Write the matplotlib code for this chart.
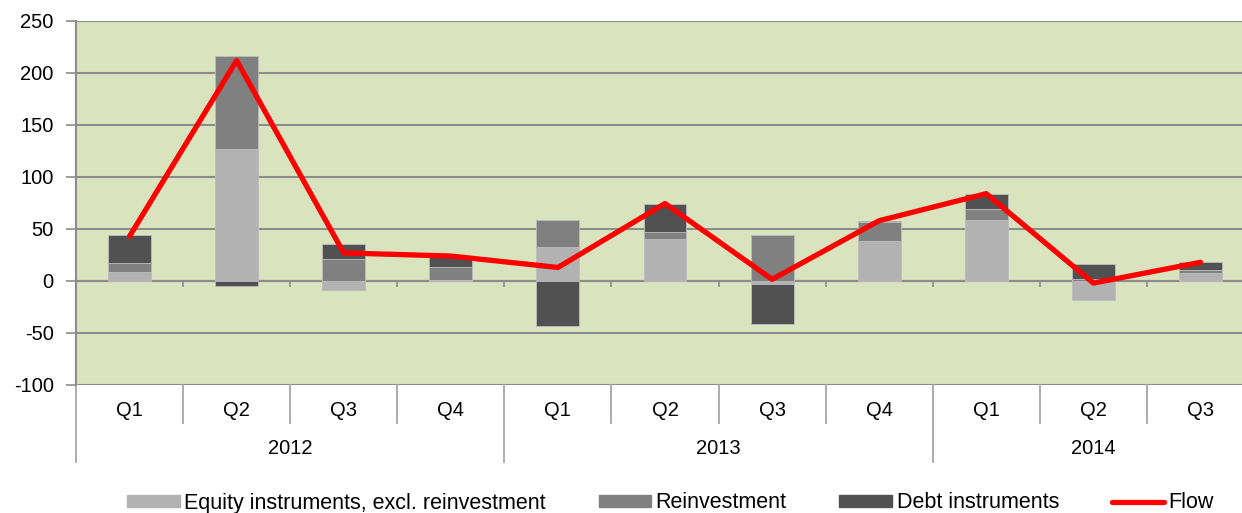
import matplotlib
matplotlib.use("Agg")
import matplotlib.pyplot as plt
import numpy as np
from matplotlib.lines import Line2D
from matplotlib.patches import Patch

plt.rcParams['font.family'] = ['Liberation Sans', 'DejaVu Sans']
plt.rcParams['axes.unicode_minus'] = False

years = ["2012", "2013", "2014"]
quarters_per_year = [4, 4, 3]
quarters = ["Q1", "Q2", "Q3", "Q4", "Q1", "Q2", "Q3", "Q4", "Q1", "Q2", "Q3"]
equity = [9, 126.6, -8.6, 0.5, 32.7, 40.7, -2.5, 38, 59, -18, 7.4]
reinvest = [8, 90, 21, 13, 26, 6.3, 44, 18.7, 10, 2, 3.2]
debt = [27, -5, 15, 11, -43, 27, -39, 1, 15, 14, 7.7]
flow = [43, 212, 27, 24, 13, 74.5, 1.6, 58, 84, -2, 18]

c_eq = '#B2B2B2'
c_re = '#808080'
c_de = '#515151'
grid_c = '#8C8C8C'
bg = '#D9E4BF'
fs = 14.5
lfs = 15.5

fig = plt.figure(figsize=(12.42, 5.13), dpi=100)
ax = fig.add_axes([76/1242, (513-385)/513, (1254-76)/1242, 364/513])
ax.set_facecolor(bg)

x = np.arange(len(quarters))
pos_b = np.zeros(len(x))
neg_b = np.zeros(len(x))
for vals, col in [(equity, c_eq), (reinvest, c_re), (debt, c_de)]:
    v = np.array(vals, dtype=float)
    bottoms = np.where(v >= 0, pos_b, neg_b)
    ax.bar(x, v, bottom=bottoms, width=0.4, color=col, edgecolor='#BDBDBD',
           linewidth=0.6, zorder=3)
    pos_b = pos_b + np.where(v >= 0, v, 0)
    neg_b = neg_b + np.where(v < 0, v, 0)

ax.plot(x, flow, color='#FF0000', lw=3.8, solid_capstyle='round',
        solid_joinstyle='round', zorder=4)

ax.set_xlim(-0.5, len(x) - 0.5)
ax.set_ylim(-100, 250)
ax.set_yticks(np.arange(-100, 251, 50))
ax.yaxis.grid(True, color=grid_c, lw=1.5, zorder=1)
ax.set_axisbelow(True)
for s in ['top', 'right']:
    ax.spines[s].set_visible(False)
ax.spines['left'].set_color(grid_c)
ax.spines['left'].set_linewidth(1.5)
ax.spines['bottom'].set_position(('data', 0))
ax.spines['bottom'].set_color(grid_c)
ax.spines['bottom'].set_linewidth(1.5)
ax.spines['bottom'].set_zorder(2)
ax.set_xticks(np.arange(-0.5, len(x), 1.0))
ax.tick_params(axis='x', length=4, width=1.2, color=grid_c, labelbottom=False)
ax.tick_params(axis='y', length=7, width=1.2, color=grid_c, pad=9, labelsize=fs)

trans = ax.get_xaxis_transform()
ax_h = 364.0
q_y = (385 - 410) / ax_h
qsep_y = (385 - 423) / ax_h
ysep_y = (385 - 462) / ax_h
yl_y = (385 - 449) / ax_h

for i, q in enumerate(quarters):
    ax.text(i, q_y, q, transform=trans, ha='center', va='center', fontsize=fs)

bounds = np.cumsum([0] + quarters_per_year)
year_bounds = set(bounds.tolist())
for b in range(len(x) + 1):
    y_end = ysep_y if b in year_bounds else qsep_y
    ax.add_line(Line2D([b - 0.5, b - 0.5], [0, y_end], transform=trans,
                       color='#A6A6A6', lw=1.3, clip_on=False))
for k, yr in enumerate(years):
    cx = (bounds[k] + bounds[k + 1]) / 2 - 0.5
    ax.text(cx, yl_y, yr, transform=trans, ha='center', va='center', fontsize=fs)

handles = [Patch(color=c_eq), Patch(color=c_re), Patch(color=c_de),
           Line2D([0], [0], color='#FF0000', lw=3.8, solid_capstyle='round')]
labels = ["Equity instruments, excl. reinvestment", "Reinvestment",
          "Debt instruments", "Flow"]
fig.legend(handles, labels, loc='center', bbox_to_anchor=(0.540, 1 - 503/513),
           ncol=4, frameon=False, fontsize=lfs, handlelength=2.45,
           handleheight=0.5, handletextpad=0.2, columnspacing=2.45,
           borderpad=0, borderaxespad=0)

fig.savefig('out.png', dpi=100)
